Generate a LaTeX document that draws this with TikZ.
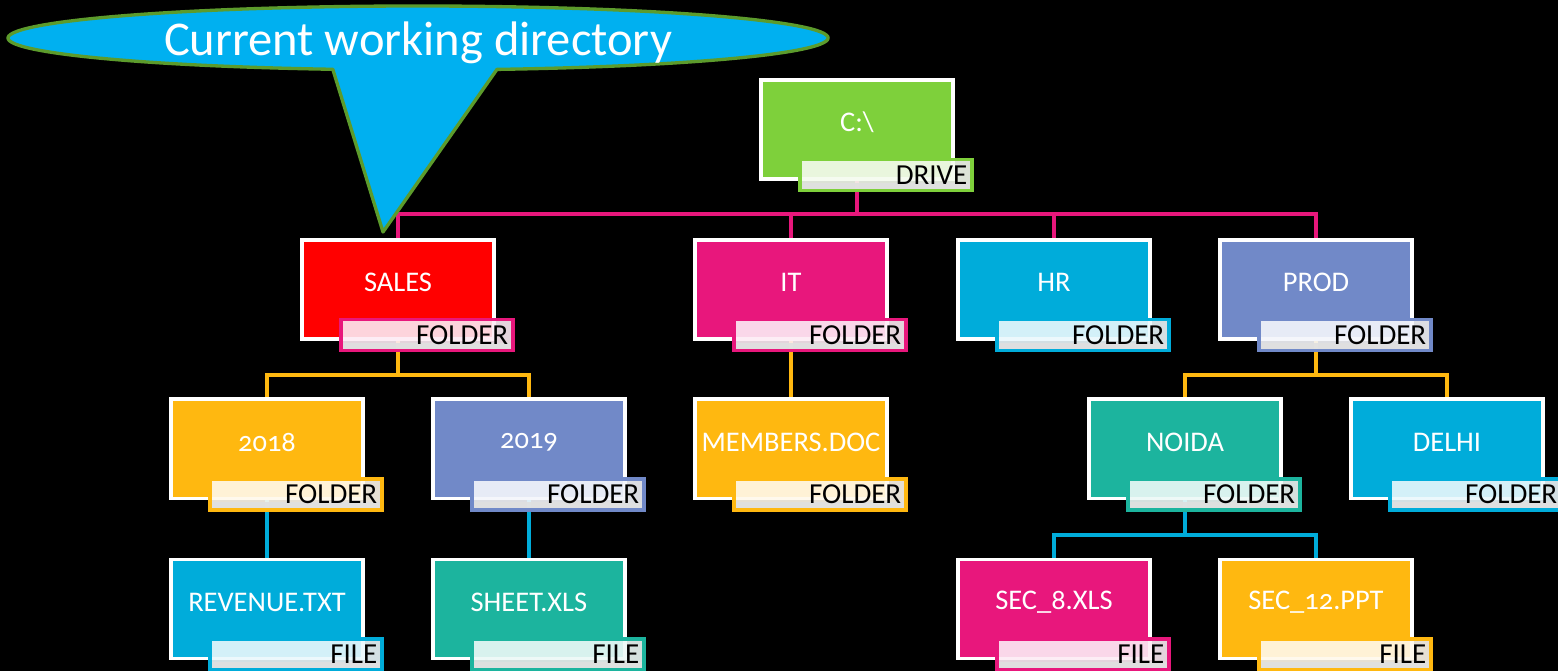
\documentclass[tikz,border=0pt]{standalone}
\usepackage{fontspec}
\setmainfont{Carlito}[Numbers=OldStyle]
\usetikzlibrary{calc, backgrounds}

\definecolor{drivegreen}{HTML}{7ED03B}
\definecolor{salesred}{HTML}{FF0000}
\definecolor{itpink}{HTML}{E8177C}
\definecolor{hrcyan}{HTML}{00ACDA}
\definecolor{prodblue}{HTML}{7189C8}
\definecolor{amber}{HTML}{FFB810}
\definecolor{sheetteal}{HTML}{1CB49E}
\definecolor{calloutblue}{HTML}{00B0F0}
\definecolor{calloutgreen}{HTML}{5C9B2C}

\tikzset{
  box/.style={draw=white, line width=2pt, minimum width=3.85cm, minimum height=1.99cm, inner sep=0pt},
  boxtext/.style={text=white, font=\fontsize{16.2}{16.2}\selectfont, inner sep=0pt},
  tag/.style={line width=2pt, minimum width=3.45cm, minimum height=0.62cm, inner sep=0pt,
    text width=3.25cm, align=right, text=black, font=\fontsize{16.5}{16.5}\selectfont,
    fill opacity=0.9, text opacity=1,
    path picture={\fill[black!12] ([yshift=0.15cm]path picture bounding box.south west) rectangle (path picture bounding box.south east);}},
  link/.style={line width=2.2pt},
  callout/.style={fill=calloutblue, draw=calloutgreen, line width=1.9pt, line join=round},
  callouttext/.style={text=white, font=\fontsize{27.6}{27.6}\selectfont, inner sep=0pt}
}

% name, x, y, fill, tag colour, text, tag text
\newcommand\entry[7]{%
  \node[box, fill=#4] (#1) at (#2,#3) {};
  \node[boxtext] (#1-name) at ([yshift=0.14cm]#1.center) {#6};
  \node[tag, draw=#5, fill=#5!8!white] (#1-tag) at ([xshift=-1.38cm, yshift=0.12cm]#1.south east) {#7};
}

\begin{document}
\begin{tikzpicture}[x=0.02cm, y=-0.02cm]
\useasboundingbox (0,0) rectangle (1558,671);

% level 0 and 1
\entry{drive}{857}{129.5}{drivegreen}{drivegreen}{C:\textbackslash}{DRIVE}
\entry{sales}{398}{289.5}{salesred}{itpink}{SALES}{FOLDER}
\entry{it}{791}{289.5}{itpink}{itpink}{IT}{FOLDER}
\entry{hr}{1054}{289.5}{hrcyan}{hrcyan}{HR}{FOLDER}
\entry{prod}{1316}{289.5}{prodblue}{prodblue}{PROD}{FOLDER}
% level 2
\entry{y2018}{267}{449}{amber}{amber}{2018}{FOLDER}
\entry{y2019}{529}{449}{prodblue}{prodblue}{2019}{FOLDER}
\entry{members}{791}{449}{amber}{amber}{MEMBERS.DOC}{FOLDER}
\entry{noida}{1185}{449}{sheetteal}{sheetteal}{NOIDA}{FOLDER}
\entry{delhi}{1447}{449}{hrcyan}{hrcyan}{DELHI}{FOLDER}
% level 3
\entry{revenue}{267}{609}{hrcyan}{hrcyan}{REVENUE.TXT}{FILE}
\entry{sheet}{529}{609}{sheetteal}{sheetteal}{SHEET.XLS}{FILE}
\entry{sec8}{1054}{609}{itpink}{itpink}{SEC\_8.XLS}{FILE}
\entry{sec12}{1316}{609}{amber}{amber}{SEC\_12.PPT}{FILE}

\begin{scope}[on background layer]
\fill[black] (0,0) rectangle (1558,671);
\foreach \k in {sales,it,hr,prod}
  \draw[link, itpink] (drive.center) -- (drive.center |- 0,214) -| (\k.center);
\foreach \k in {y2018,y2019}
  \draw[link, amber] (sales.center) -- (sales.center |- 0,375) -| (\k.center);
\draw[link, amber] (it.center) -- (members.center);
\foreach \k in {noida,delhi}
  \draw[link, amber] (prod.center) -- (prod.center |- 0,375) -| (\k.center);
\draw[link, hrcyan] (y2018.center) -- (revenue.center);
\draw[link, hrcyan] (y2019.center) -- (sheet.center);
\foreach \k in {sec8,sec12}
  \draw[link, hrcyan] (noida.center) -- (noida.center |- 0,535) -| (\k.center);
\end{scope}

% callout
\draw[callout] (332.8,69.3) arc[start angle=102, end angle=438.9, x radius=410, y radius=32] -- (383,232) -- cycle;
\node[callouttext] (cwd) at (418,43) {Current working directory};
\end{tikzpicture}
\end{document}
